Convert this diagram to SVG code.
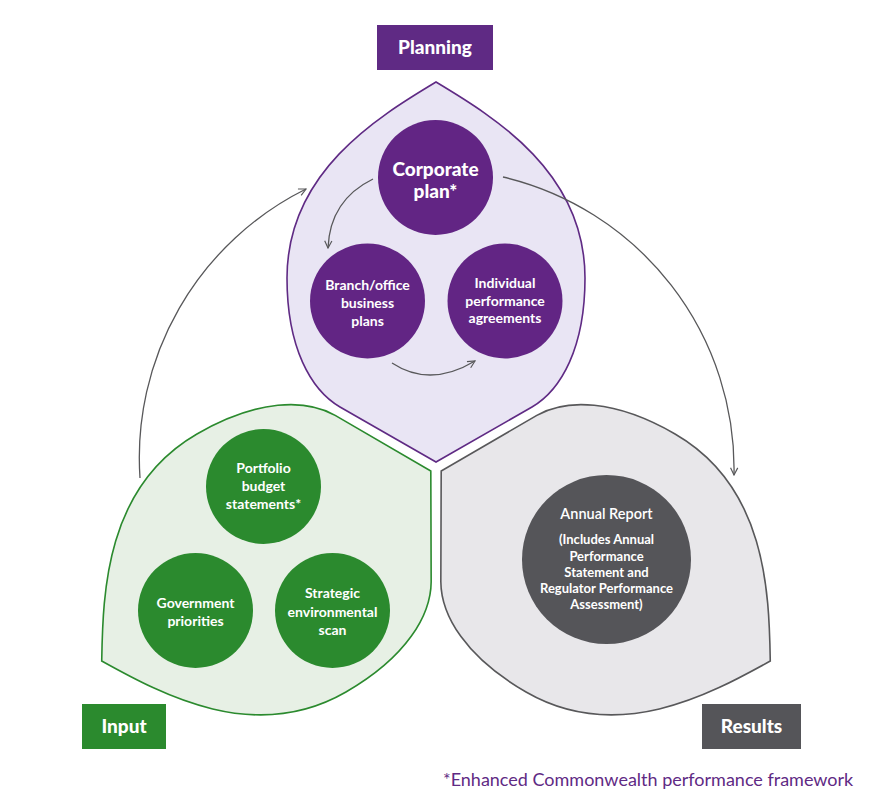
<svg xmlns="http://www.w3.org/2000/svg" width="890" height="800" viewBox="0 0 890 800">
<style>
.petal{stroke-width:1.6}
.ct{font-family:Lato,"Liberation Sans",sans-serif;font-weight:700;fill:#fff;text-anchor:middle;font-size:14px}
.lbl{font-family:Lato,"Liberation Sans",sans-serif;font-weight:900;fill:#fff;text-anchor:middle;font-size:19px}
.conn{fill:none;stroke:#58585a;stroke-width:1.3}
</style>
<defs>
<path id="petalShape" d="M0,-386 C-60,-350 -149,-295 -149,-190 C-149,-120 -125,-78 -96,-61 L0,-6 L96,-61 C125,-78 149,-120 149,-190 C149,-295 60,-350 0,-386 Z"/>
<marker id="arr" viewBox="0 0 10 10" refX="9" refY="5" markerWidth="9" markerHeight="9" markerUnits="userSpaceOnUse" orient="auto">
<path d="M1,1 L9,5 L1,9" fill="none" stroke="#58585a" stroke-width="1.3"/>
</marker>
</defs>
<rect width="890" height="800" fill="#fff"/>

<g id="planning-petal">
<use href="#petalShape" class="petal" transform="translate(436,468)" fill="#e9e5f4" stroke="#5f2a84"/>
</g>
<g id="input-petal">
<use href="#petalShape" class="petal" transform="translate(436,468) rotate(240)" fill="#e7f0e5" stroke="#2b8a2e"/>
</g>
<g id="results-petal">
<use href="#petalShape" class="petal" transform="translate(436,468) rotate(120)" fill="#e8e7ea" stroke="#58585a"/>
</g>

<g id="connectors">
<path class="conn" d="M140,478 A300,300 0 0 1 306,189" marker-end="url(#arr)"/>
<path class="conn" d="M503,177 A300,300 0 0 1 734,475" marker-end="url(#arr)"/>
<path class="conn" d="M373,179 Q330,200 328,248" marker-end="url(#arr)"/>
<path class="conn" d="M392,363 Q430,388 475,361" marker-end="url(#arr)"/>
</g>

<g id="planning-label">
<rect x="377" y="25" width="116" height="45" fill="#5f2a84"/>
<text class="lbl" x="435" y="54">Planning</text>
</g>
<g id="input-label">
<rect x="82" y="704" width="84" height="45" fill="#2b8a2e"/>
<text class="lbl" x="124" y="733">Input</text>
</g>
<g id="results-label">
<rect x="702" y="704" width="99" height="45" fill="#555559"/>
<text class="lbl" x="751.5" y="733">Results</text>
</g>

<g id="corporate-plan">
<circle cx="435.5" cy="177.5" r="57.5" fill="#622584"/>
<text class="ct" style="font-size:19px;font-weight:900" x="435.5" y="176">Corporate</text>
<text class="ct" style="font-size:19px;font-weight:900" x="435.5" y="198">plan*</text>
</g>
<g id="branch-office">
<circle cx="367.5" cy="301" r="57.5" fill="#622584"/>
<text class="ct" x="367.5" y="290">Branch/office</text>
<text class="ct" x="367.5" y="308">business</text>
<text class="ct" x="367.5" y="326">plans</text>
</g>
<g id="individual-performance">
<circle cx="505" cy="301" r="57.5" fill="#622584"/>
<text class="ct" x="505" y="288">Individual</text>
<text class="ct" x="505" y="306">performance</text>
<text class="ct" x="505" y="323">agreements</text>
</g>
<g id="portfolio-budget">
<circle cx="263.5" cy="486.5" r="57.5" fill="#2b8a2e"/>
<text class="ct" x="263.5" y="473">Portfolio</text>
<text class="ct" x="263.5" y="491">budget</text>
<text class="ct" x="263.5" y="509">statements*</text>
</g>
<g id="government-priorities">
<circle cx="195.5" cy="610.5" r="57.5" fill="#2b8a2e"/>
<text class="ct" x="195.5" y="608">Government</text>
<text class="ct" x="195.5" y="626">priorities</text>
</g>
<g id="strategic-scan">
<circle cx="332.5" cy="610.5" r="57.5" fill="#2b8a2e"/>
<text class="ct" x="332.5" y="598">Strategic</text>
<text class="ct" x="332.5" y="617">environmental</text>
<text class="ct" x="332.5" y="635">scan</text>
</g>
<g id="annual-report">
<circle cx="606.5" cy="559.5" r="84.5" fill="#555559"/>
<text class="ct" style="font-weight:600;font-size:14.5px" x="606.5" y="519">Annual Report</text>
<text class="ct" style="font-size:13px" x="606.5" y="544">(Includes Annual</text>
<text class="ct" style="font-size:13px" x="606.5" y="561">Performance</text>
<text class="ct" style="font-size:13px" x="606.5" y="577">Statement and</text>
<text class="ct" style="font-size:13px" x="606.5" y="593">Regulator Performance</text>
<text class="ct" style="font-size:13px" x="606.5" y="609">Assessment)</text>
</g>

<text x="443" y="786" font-family="Lato,'Liberation Sans',sans-serif" font-size="18" fill="#5f2a84">*Enhanced Commonwealth performance framework</text>
</svg>
